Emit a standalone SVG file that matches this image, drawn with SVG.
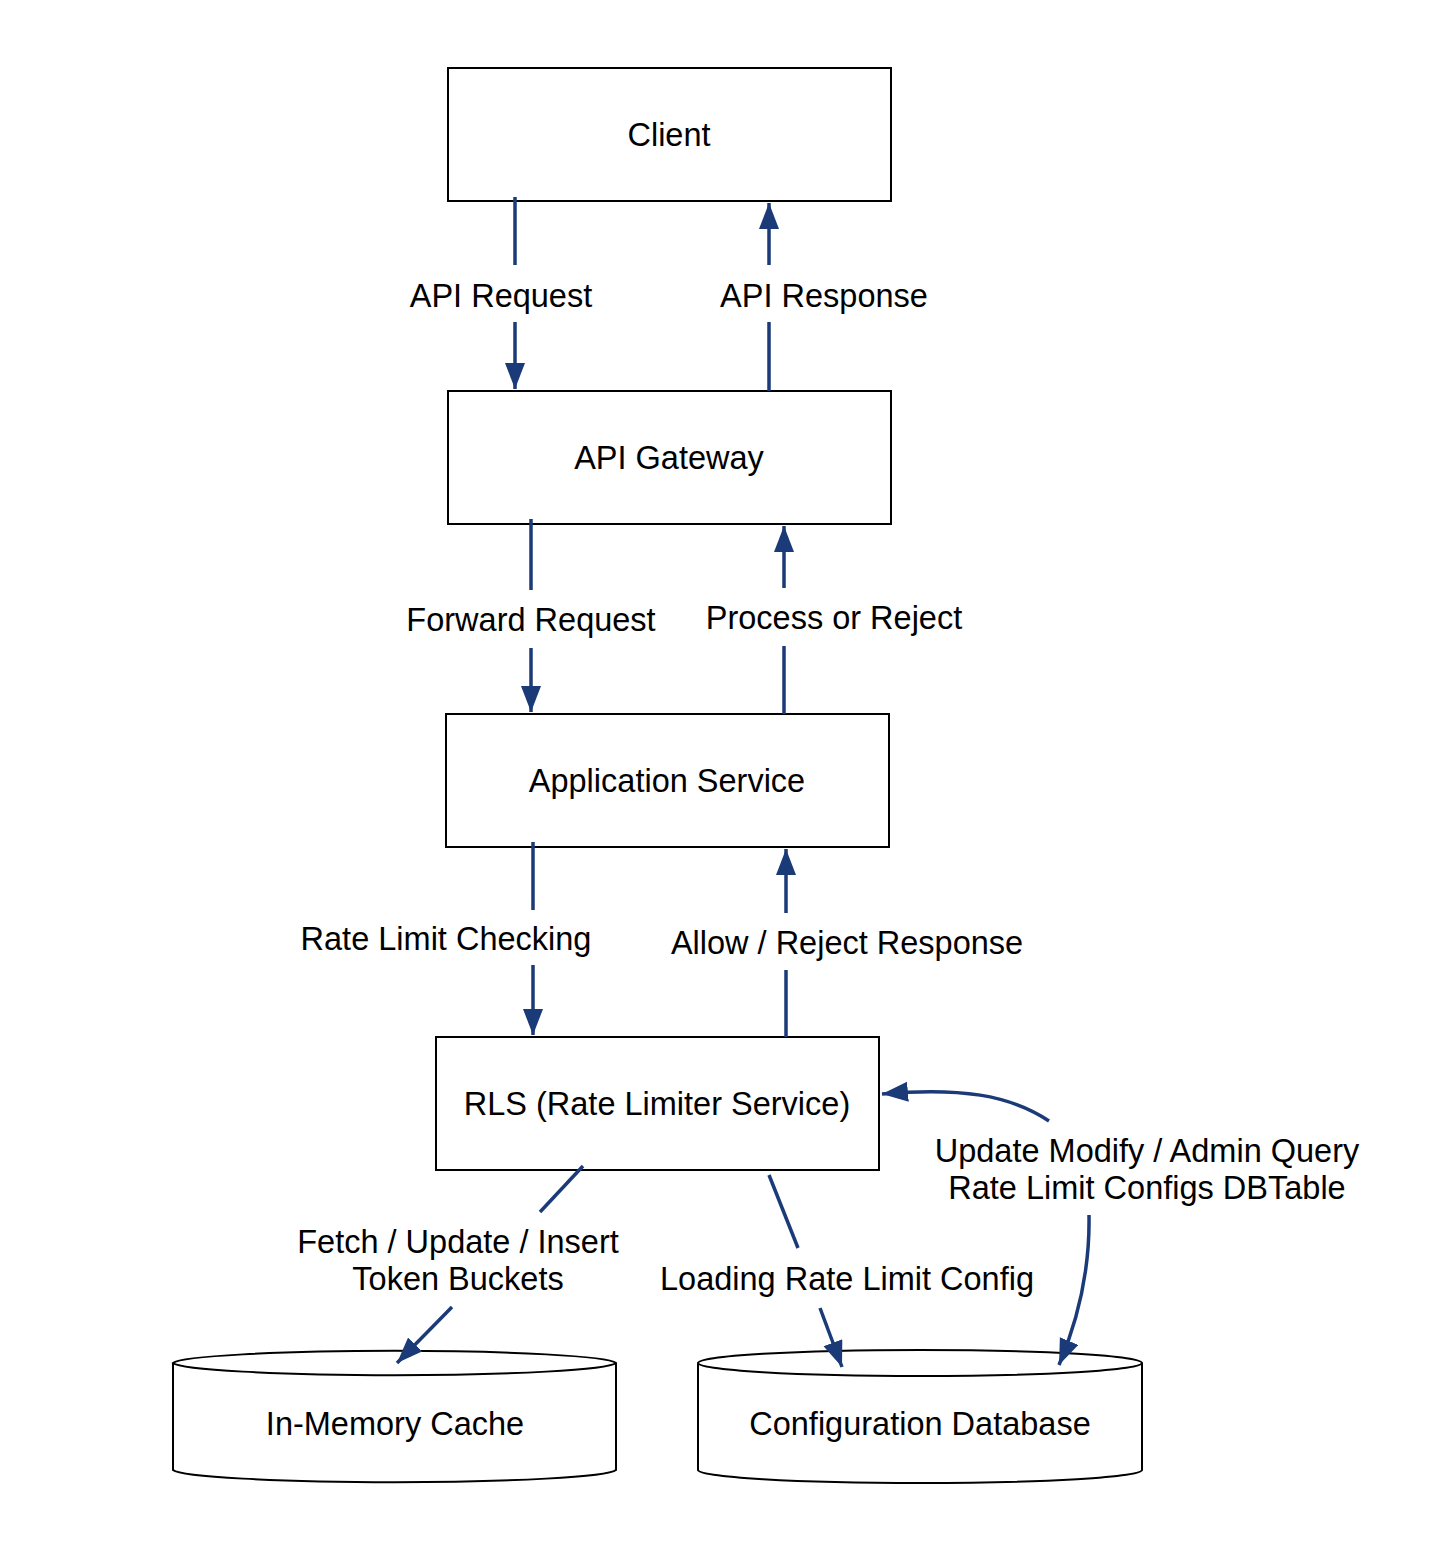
<svg xmlns="http://www.w3.org/2000/svg" width="1446" height="1560" viewBox="0 0 1446 1560">
<style>
.box{fill:#fff;stroke:#000;stroke-width:2}
.t{font-family:"Liberation Sans",Arial,sans-serif;font-size:32.5px;fill:#000;text-anchor:middle}
.c{fill:none;stroke:#1b3a78;stroke-width:3.5}
</style>
<defs>
<marker id="ah" markerUnits="userSpaceOnUse" markerWidth="28" markerHeight="22" refX="26" refY="10" orient="auto">
<path d="M0,0 L26,10 L0,20 z" fill="#1b3a78"/>
</marker>
</defs>
<rect width="1446" height="1560" fill="#fff"/>
<g id="client"><rect class="box" x="448" y="68" width="443" height="133"/><text class="t" x="669" y="146">Client</text></g>
<g id="gateway"><rect class="box" x="448" y="391" width="443" height="133"/><text class="t" x="669" y="469">API Gateway</text></g>
<g id="app"><rect class="box" x="446" y="714" width="443" height="133"/><text class="t" x="667" y="792">Application Service</text></g>
<g id="rls"><rect class="box" x="436" y="1037" width="443" height="133"/><text class="t" x="657" y="1115">RLS (Rate Limiter Service)</text></g>
<g id="cache"><path class="box" d="M173,1363 L173,1470 A222,13 0 0 0 616,1470 L616,1363 A222,13 0 0 0 173,1363 A222,13 0 0 0 616,1363"/><text class="t" x="395" y="1435">In-Memory Cache</text></g>
<g id="configdb"><path class="box" d="M698,1363 L698,1470 A222,13 0 0 0 1142,1470 L1142,1363 A222,13 0 0 0 698,1363 A222,13 0 0 0 1142,1363"/><text class="t" x="920" y="1435">Configuration Database</text></g>
<g id="connectors">
<line class="c" x1="515" y1="197" x2="515" y2="265"/><line class="c" x1="515" y1="322" x2="515" y2="389" marker-end="url(#ah)"/>
<text class="t" x="501" y="307">API Request</text>
<line class="c" x1="769" y1="391" x2="769" y2="322"/><line class="c" x1="769" y1="265" x2="769" y2="203" marker-end="url(#ah)"/>
<text class="t" x="824" y="307">API Response</text>
<line class="c" x1="531" y1="519" x2="531" y2="590"/><line class="c" x1="531" y1="648" x2="531" y2="712" marker-end="url(#ah)"/>
<text class="t" x="531" y="631">Forward Request</text>
<line class="c" x1="784" y1="714" x2="784" y2="646"/><line class="c" x1="784" y1="588" x2="784" y2="526" marker-end="url(#ah)"/>
<text class="t" x="834" y="629">Process or Reject</text>
<line class="c" x1="533" y1="842" x2="533" y2="910"/><line class="c" x1="533" y1="965" x2="533" y2="1035" marker-end="url(#ah)"/>
<text class="t" x="446" y="950">Rate Limit Checking</text>
<line class="c" x1="786" y1="1037" x2="786" y2="970"/><line class="c" x1="786" y1="913" x2="786" y2="849" marker-end="url(#ah)"/>
<text class="t" x="847" y="954">Allow / Reject Response</text>
<line class="c" x1="583" y1="1166" x2="540" y2="1212"/><line class="c" x1="452" y1="1307" x2="397" y2="1363" marker-end="url(#ah)"/>
<text class="t" x="458" y="1253">Fetch / Update / Insert</text>
<text class="t" x="458" y="1290">Token Buckets</text>
<line class="c" x1="769" y1="1175" x2="798" y2="1248"/><line class="c" x1="820" y1="1308" x2="842" y2="1367" marker-end="url(#ah)"/>
<text class="t" x="847" y="1290">Loading Rate Limit Config</text>
<path class="c" d="M1049,1121 C1010,1095 960,1087 882,1094" marker-end="url(#ah)"/>
<path class="c" d="M1089,1215 C1090,1270 1078,1320 1059,1365" marker-end="url(#ah)"/>
<text class="t" x="1147" y="1162">Update Modify / Admin Query</text>
<text class="t" x="1147" y="1199">Rate Limit Configs DBTable</text>
</g>
</svg>
